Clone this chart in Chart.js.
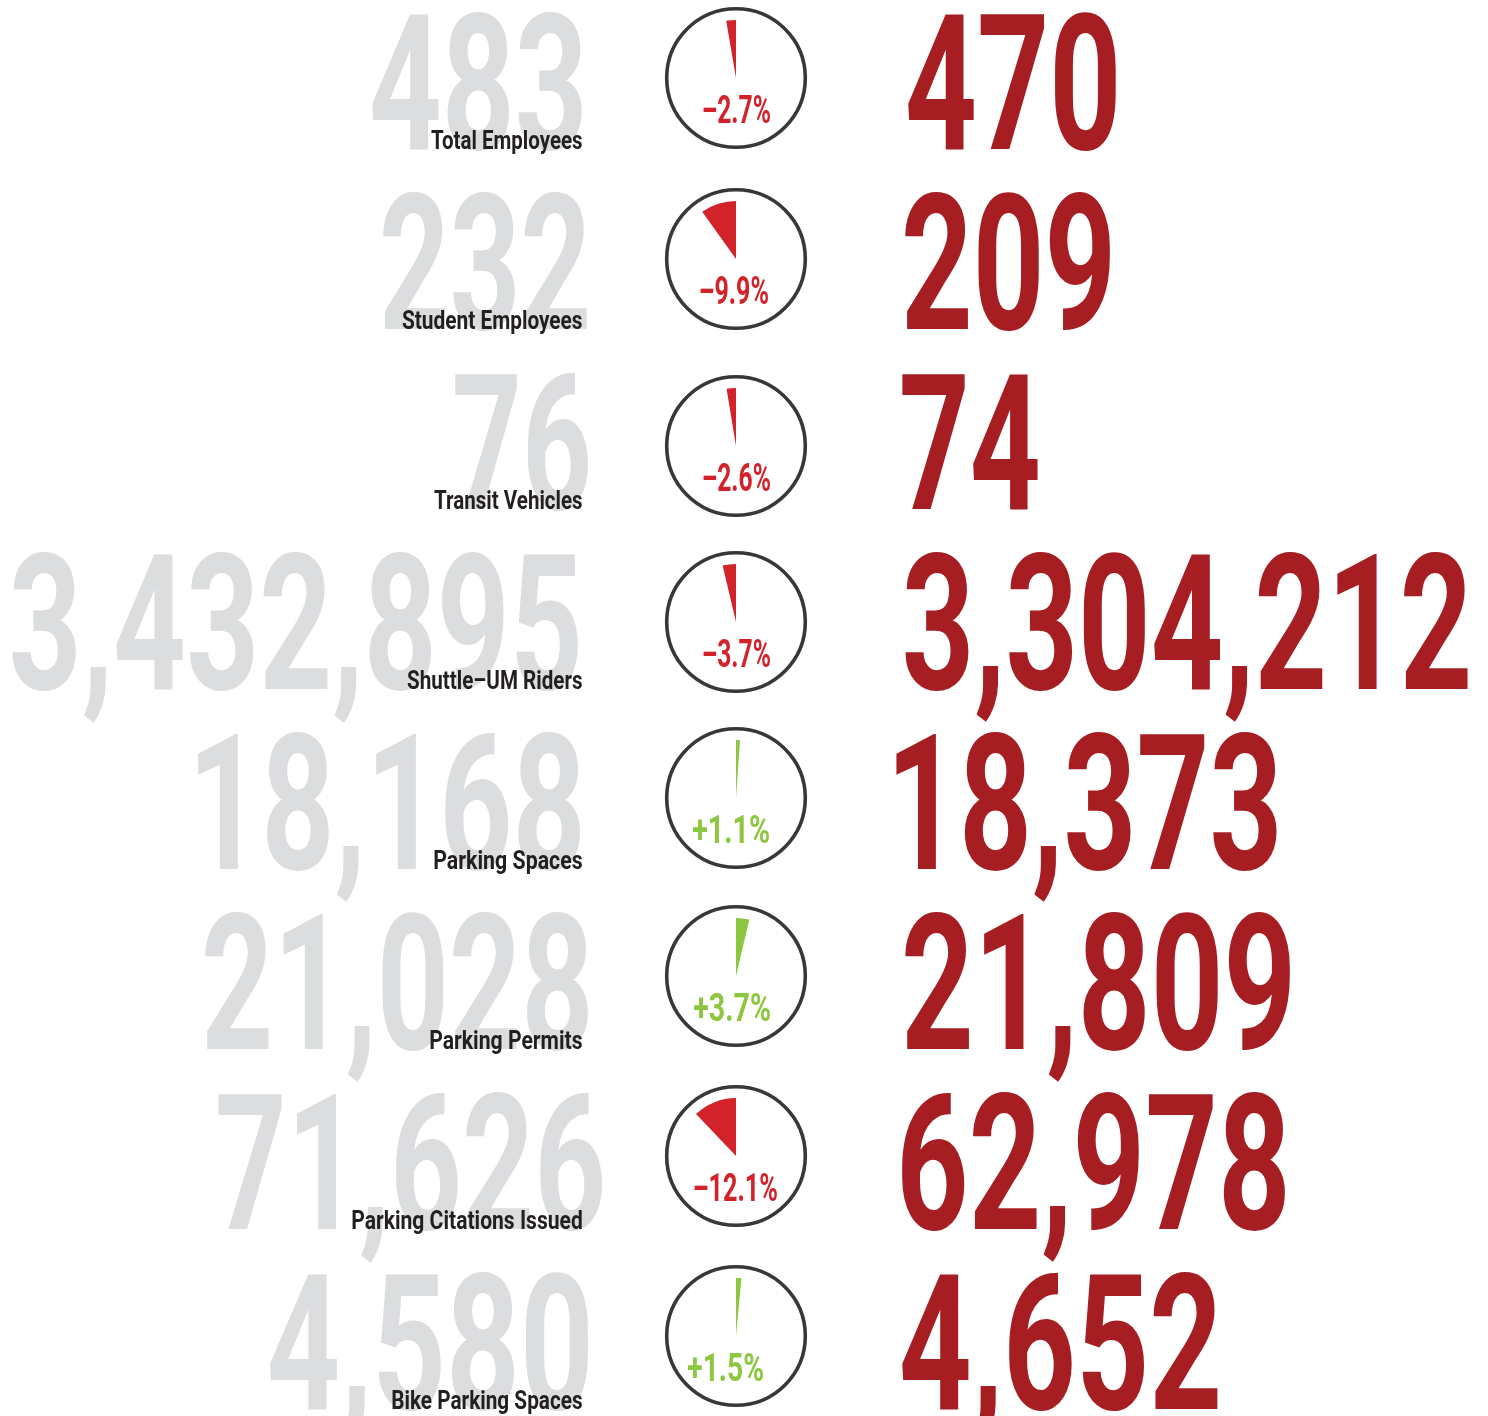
<!DOCTYPE html>
<html>
<head>
<meta charset="utf-8">
<script src="https://cdn.jsdelivr.net/npm/chart.js@4.4.0/dist/chart.umd.min.js"></script>
<style>
  html, body { margin: 0; padding: 0; background: #ffffff; }
  #page { position: relative; width: 1488px; height: 1416px; overflow: hidden; background: #ffffff; }
  #page canvas { position: absolute; }
  #txt { position: absolute; left: 0; top: 0; pointer-events: none; }
</style>
</head>
<body>
<div id="page">
  <svg id="txt" width="1488" height="1416" xmlns="http://www.w3.org/2000/svg"></svg>
</div>
<script>
// ---------------- DATA ----------------
const categories = ["Total Employees", "Student Employees", "Transit Vehicles", "Shuttle\u2013UM Riders",
                    "Parking Spaces", "Parking Permits", "Parking Citations Issued", "Bike Parking Spaces"];
const previousValues = [483, 232, 76, 3432895, 18168, 21028, 71626, 4580];
const currentValues  = [470, 209, 74, 3304212, 18373, 21809, 62978, 4652];
const changePct      = [-2.7, -9.9, -2.6, -3.7, 1.1, 3.7, -12.1, 1.5];

// ---------------- LAYOUT (positions / sizes only) ----------------
const rowTop   = [11, 191, 371, 551, 731, 911, 1091, 1271];
const DIGIT_H  = 138;
const grayL    = [372, 383, 455, 12, 198, 205, 218, 270];
const grayR    = [582, 587, 588, 578, 580, 588, 602, 588];
const redL     = [908, 905, 902, 905, 896, 905, 902, 902];
const redR     = [1116, 1110, 1038, 1468, 1277, 1290, 1285, 1218];
const labelL   = [431, 402, 434, 407, 434, 430, 352, 392];
const labelR   = 582;
const LABEL_CAP = 18;
const circleX  = 736;
const circleY  = [77.5, 259, 446, 621.5, 798, 976, 1156, 1336];
const pctL     = [703, 700, 703, 703, 693, 694, 694, 688];
const pctR     = [770, 768, 770, 770, 769, 770, 777, 763];
const PCT_CAP  = 28;
const PCT_DY   = 45;
const RING_R   = 69.3;
const WEDGE_R  = 58;

// ---------------- STYLES ----------------
const FONT = "Roboto, 'DejaVu Sans', sans-serif";
const GRAY = "#dcdddf";
const DARK_RED = "#a61e22";
const RED = "#d2232a";
const GREEN = "#8dc63f";
const LABEL_COL = "#231f20";
const RING_COL = "#383838";

// ---------------- TEXT HELPERS ----------------
const mctx = document.createElement('canvas').getContext('2d');
const svg = document.getElementById('txt');
const SVGNS = "http://www.w3.org/2000/svg";

function capRatio(sample) {
  mctx.font = "700 100px " + FONT;
  return mctx.measureText(sample).actualBoundingBoxAscent / 100;
}
function fitText(str, left, right, baseline, capH, sample, color) {
  const size = capH / capRatio(sample);
  mctx.font = "700 " + size + "px " + FONT;
  const m = mctx.measureText(str);
  const abl = m.actualBoundingBoxLeft, abr = m.actualBoundingBoxRight;
  const sx = (right - left) / (abl + abr);
  const t = document.createElementNS(SVGNS, 'text');
  t.setAttribute('x', 0);
  t.setAttribute('y', 0);
  t.setAttribute('font-family', FONT);
  t.setAttribute('font-weight', '700');
  t.setAttribute('font-size', size);
  t.setAttribute('fill', color);
  t.setAttribute('transform', 'translate(' + (left + abl * sx) + ',' + baseline + ') scale(' + sx + ',1)');
  t.textContent = str;
  svg.appendChild(t);
}
const fmt = v => v.toLocaleString('en-US');
const pctText = p => (p < 0 ? '\u2013' : '+') + Math.abs(p).toFixed(1) + '%';

// ---------------- CIRCLE PLUGIN ----------------
const ringPlugin = {
  id: 'ring',
  afterDraw(chart) {
    const { ctx, chartArea } = chart;
    const cx = (chartArea.left + chartArea.right) / 2;
    const cy = (chartArea.top + chartArea.bottom) / 2;
    ctx.save();
    ctx.beginPath();
    ctx.arc(cx, cy, RING_R, 0, Math.PI * 2);
    ctx.lineWidth = 3.6;
    ctx.strokeStyle = RING_COL;
    ctx.stroke();
    ctx.restore();
  }
};

// ---------------- BUILD ----------------
const page = document.getElementById('page');
const SIZE = 160;

categories.forEach((cat, i) => {
  const base = rowTop[i] + DIGIT_H;
  // gray previous value (behind label)
  fitText(fmt(previousValues[i]), grayL[i], grayR[i], base, DIGIT_H, "0123456789", GRAY);
});
categories.forEach((cat, i) => {
  const base = rowTop[i] + DIGIT_H;
  fitText(cat, labelL[i], labelR, base, LABEL_CAP, "H", LABEL_COL);
  fitText(fmt(currentValues[i]), redL[i], redR[i], base, DIGIT_H, "0123456789", DARK_RED);
  const p = changePct[i];
  const col = p < 0 ? RED : GREEN;
  fitText(pctText(p), pctL[i], pctR[i], circleY[i] + PCT_DY, PCT_CAP, "0123456789", col);

  const cv = document.createElement('canvas');
  cv.width = SIZE; cv.height = SIZE;
  cv.style.left = (circleX - SIZE / 2) + 'px';
  cv.style.top = (circleY[i] - SIZE / 2) + 'px';
  cv.style.width = SIZE + 'px'; cv.style.height = SIZE + 'px';
  page.insertBefore(cv, svg);
  const a = Math.abs(p);
  new Chart(cv, {
    type: 'pie',
    data: {
      labels: [cat + ' change', 'rest'],
      datasets: [{
        data: [a, 100 - a],
        backgroundColor: [col, 'rgba(0,0,0,0)'],
        borderWidth: 0,
        hoverOffset: 0
      }]
    },
    options: {
      responsive: false,
      animation: false,
      devicePixelRatio: 1,
      events: [],
      radius: WEDGE_R,
      rotation: p < 0 ? -a * 3.6 : 0,
      layout: { padding: 0 },
      plugins: { legend: { display: false }, tooltip: { enabled: false } }
    },
    plugins: [ringPlugin]
  });
});
</script>
</body>
</html>
